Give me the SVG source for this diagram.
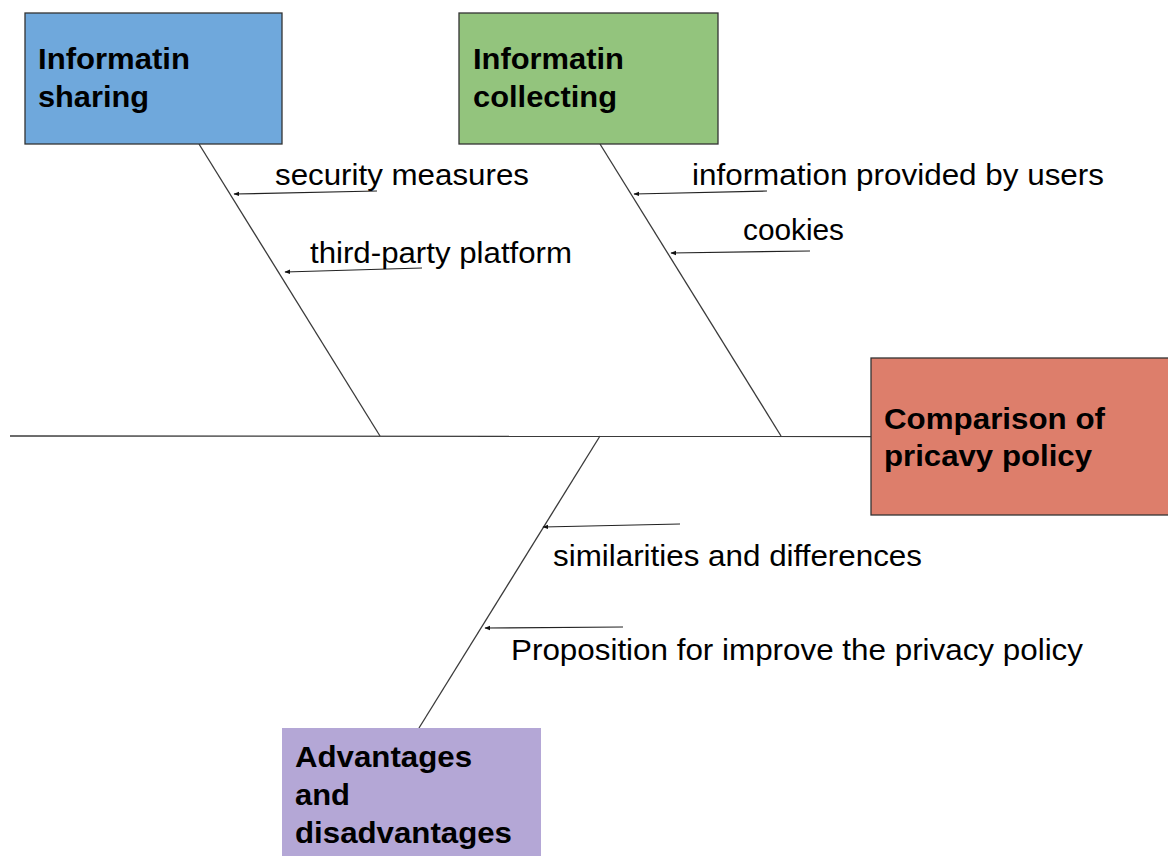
<svg xmlns="http://www.w3.org/2000/svg" width="1168" height="856" viewBox="0 0 1168 856">
<defs>
<style>
.box{stroke:#333;stroke-width:1.3}
.t{font-family:"Liberation Sans",Arial,sans-serif;font-weight:bold;font-size:29px;fill:#000}
.l{font-family:"Liberation Sans",Arial,sans-serif;font-size:29px;fill:#000}
.bone{stroke:#3a3a3a;stroke-width:1.3;fill:none}
.arr{stroke:#222;stroke-width:1.2;fill:none;marker-end:url(#ah)}
</style>
<marker id="ah" viewBox="0 0 10 10" refX="9" refY="5" markerWidth="6" markerHeight="6" orient="auto" markerUnits="userSpaceOnUse">
<path d="M0,1 L10,5 L0,9 Z" fill="#111"/>
</marker>
</defs>
<rect width="1168" height="856" fill="#fff"/>
<g id="connectors">
<line class="bone" x1="10" y1="436" x2="871" y2="436.5"/>
<line class="bone" x1="199" y1="144" x2="380" y2="436"/>
<line class="bone" x1="600" y1="144" x2="781" y2="436"/>
<line class="bone" x1="600" y1="436" x2="419" y2="728"/>
<line class="arr" x1="377" y1="191" x2="234" y2="194"/>
<line class="arr" x1="422" y1="268" x2="285" y2="272"/>
<line class="arr" x1="767" y1="191" x2="634" y2="194"/>
<line class="arr" x1="810" y1="251" x2="671" y2="253"/>
<line class="arr" x1="680" y1="524" x2="543" y2="527"/>
<line class="arr" x1="623" y1="627" x2="485" y2="628"/>
</g>
<g id="node-sharing">
<rect class="box" x="25" y="13" width="257" height="131" fill="#6fa8dc"/>
<text class="t" x="38" y="69" textLength="152" lengthAdjust="spacingAndGlyphs">Informatin</text>
<text class="t" x="38" y="107" textLength="111" lengthAdjust="spacingAndGlyphs">sharing</text>
</g>
<g id="node-collecting">
<rect class="box" x="459" y="13" width="259" height="131" fill="#93c47d"/>
<text class="t" x="473" y="69" textLength="151" lengthAdjust="spacingAndGlyphs">Informatin</text>
<text class="t" x="473" y="107" textLength="144" lengthAdjust="spacingAndGlyphs">collecting</text>
</g>
<g id="node-comparison">
<rect class="box" x="871" y="358" width="298" height="157" fill="#dd7e6b"/>
<text class="t" x="884" y="429" textLength="221" lengthAdjust="spacingAndGlyphs">Comparison of</text>
<text class="t" x="884" y="466" textLength="208" lengthAdjust="spacingAndGlyphs">pricavy policy</text>
</g>
<g id="node-advantages">
<rect x="282" y="728" width="259" height="128" fill="#b4a7d6"/>
<text class="t" x="295" y="767" textLength="177" lengthAdjust="spacingAndGlyphs">Advantages</text>
<text class="t" x="295" y="805" textLength="55" lengthAdjust="spacingAndGlyphs">and</text>
<text class="t" x="295" y="843" textLength="217" lengthAdjust="spacingAndGlyphs">disadvantages</text>
</g>
<g id="labels">
<text class="l" x="275" y="185" textLength="254" lengthAdjust="spacingAndGlyphs">security measures</text>
<text class="l" x="310" y="263" textLength="262" lengthAdjust="spacingAndGlyphs">third-party platform</text>
<text class="l" x="692" y="185" textLength="412" lengthAdjust="spacingAndGlyphs">information provided by users</text>
<text class="l" x="743" y="240" textLength="101" lengthAdjust="spacingAndGlyphs">cookies</text>
<text class="l" x="553" y="566" textLength="369" lengthAdjust="spacingAndGlyphs">similarities and differences</text>
<text class="l" x="511" y="660" textLength="572" lengthAdjust="spacingAndGlyphs">Proposition for improve the privacy policy</text>
</g>
</svg>
